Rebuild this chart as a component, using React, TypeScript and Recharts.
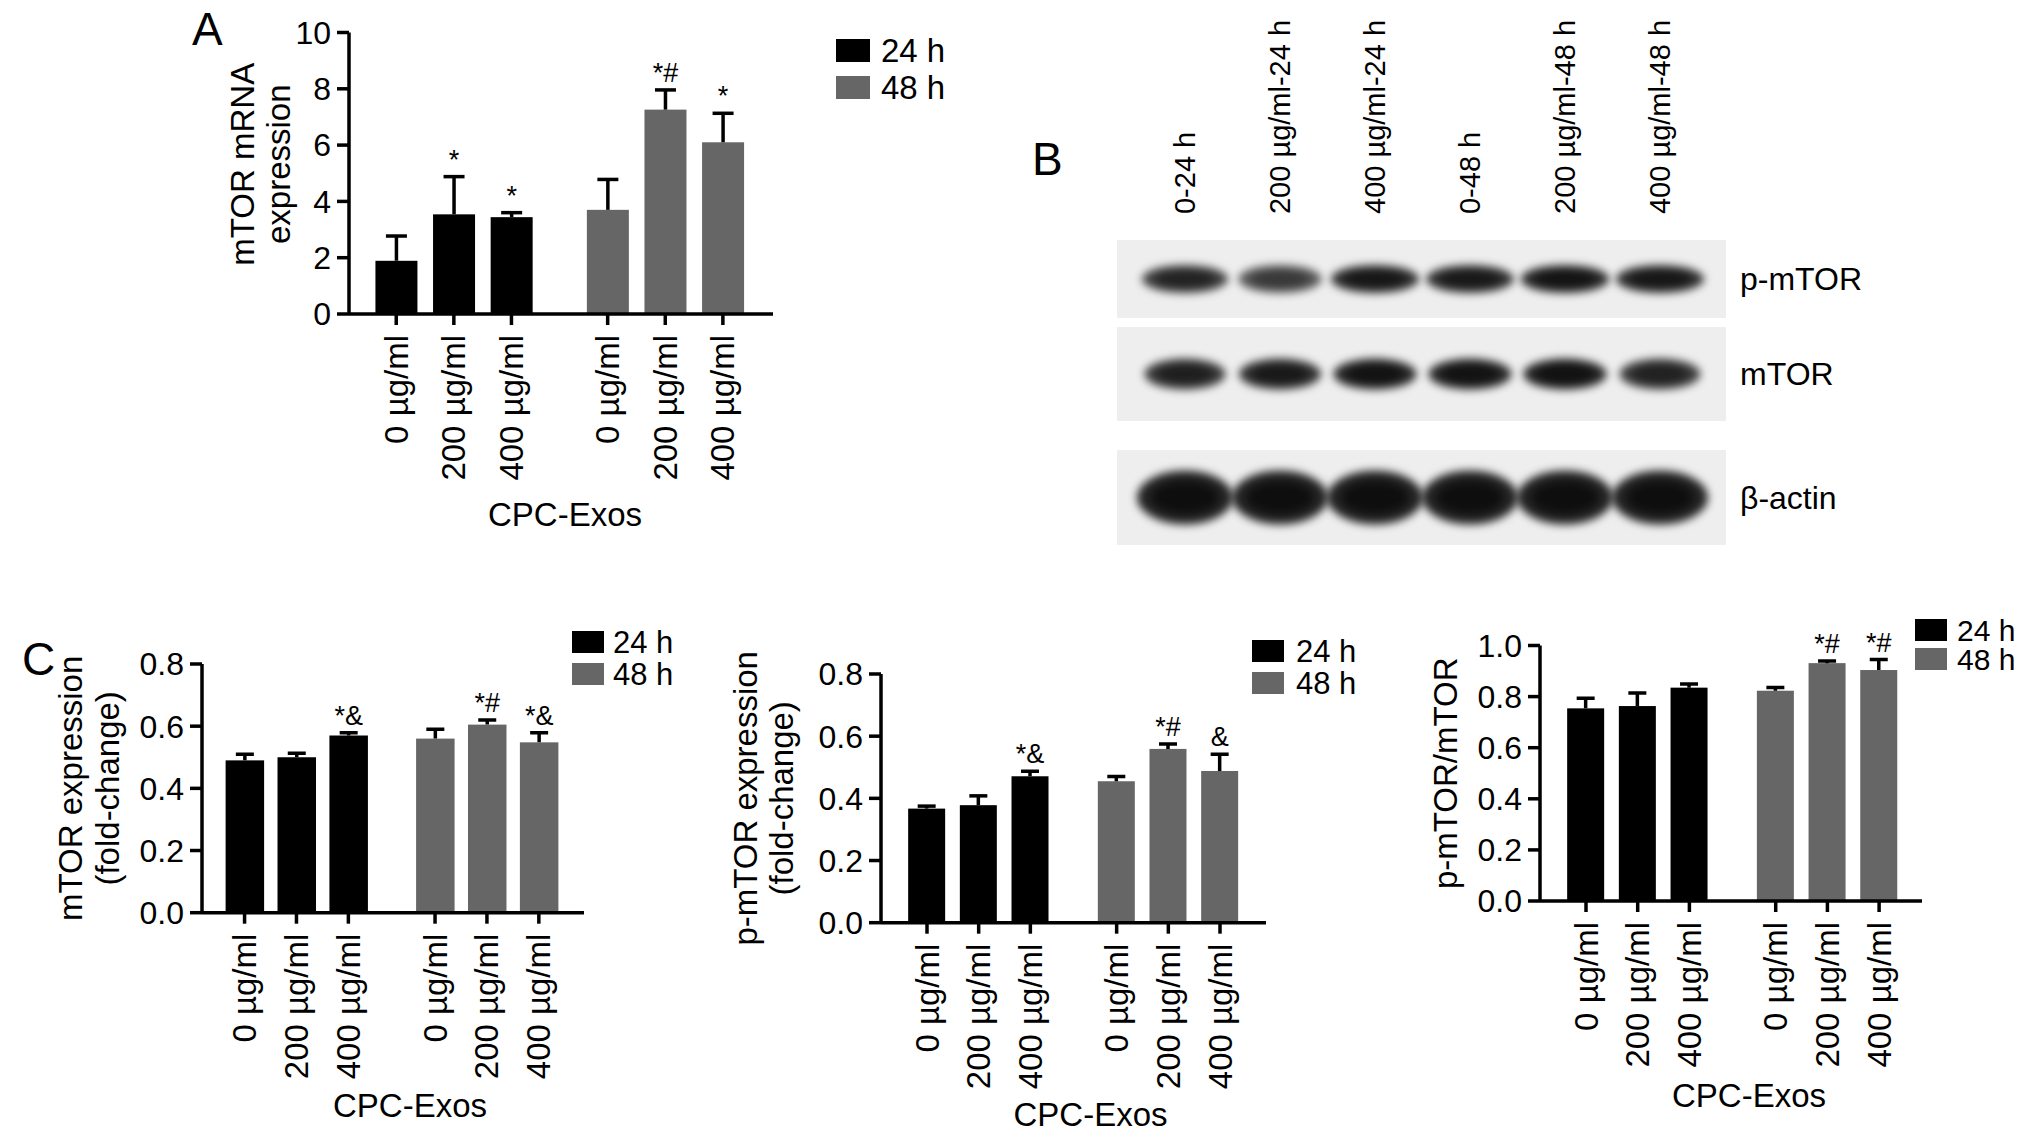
import React from 'react';
import {
  BarChart, Bar, XAxis, YAxis, Legend,
  ScatterChart, Scatter, ReferenceArea,
} from 'recharts';

const FONT = '"Liberation Sans", Arial, Helvetica, sans-serif';

const doses = ['0 µg/ml', '200 µg/ml', '400 µg/ml'];
const times = ['24 h', '48 h'];
const timeColors = ['#000000', '#666666'];

// A - mTOR mRNA
const mrna24 = [1.89, 3.54, 3.44];
const mrna48 = [3.7, 7.26, 6.1];
const mrnaSd24 = [0.88, 1.34, 0.16];
const mrnaSd48 = [1.08, 0.7, 1.03];
const mrnaSig24 = ['', '*', '*'];
const mrnaSig48 = ['', '*#', '*'];
const mrnaTicks = [0, 2, 4, 6, 8, 10];

// C left - mTOR protein
const mtor24 = [0.49, 0.5, 0.57];
const mtor48 = [0.56, 0.605, 0.548];
const mtorSd24 = [0.02, 0.013, 0.009];
const mtorSd48 = [0.03, 0.015, 0.031];
const mtorSig24 = ['', '', '*&'];
const mtorSig48 = ['', '*#', '*&'];

// C middle - p-mTOR
const pmtor24 = [0.367, 0.378, 0.471];
const pmtor48 = [0.455, 0.559, 0.488];
const pmtorSd24 = [0.008, 0.03, 0.016];
const pmtorSd48 = [0.015, 0.016, 0.054];
const pmtorSig24 = ['', '', '*&'];
const pmtorSig48 = ['', '*#', '&'];
const foldTicks = [0, 0.2, 0.4, 0.6, 0.8];

// C right - p-mTOR/mTOR
const ratio24 = [0.754, 0.763, 0.835];
const ratio48 = [0.823, 0.931, 0.904];
const ratioSd24 = [0.04, 0.051, 0.014];
const ratioSd48 = [0.013, 0.008, 0.041];
const ratioSig24 = ['', '', ''];
const ratioSig48 = ['', '*#', '*#'];
const ratioTicks = [0, 0.2, 0.4, 0.6, 0.8, 1.0];

// B - western blot, relative band density per lane
const lanes = ['0-24 h', '200 µg/ml-24 h', '400 µg/ml-24 h', '0-48 h', '200 µg/ml-48 h', '400 µg/ml-48 h'];
const pmtorBands = [0.78, 0.6, 0.9, 0.88, 0.93, 0.9];
const mtorBands = [0.82, 0.88, 0.95, 0.95, 0.97, 0.8];
const actinBands = [1, 1, 1, 1, 1, 1];

// extra space between the 24 h and 48 h groups, in bar slots
const GROUP_GAP = 0.67;
const X_AXIS_H = 222;

type Row = { pos: number; dose: string; group: number; value: number; sd: number; sig: string };

const buildRows = (vals: number[][], sds: number[][], sigs: string[][]): Row[] =>
  times.flatMap((_, g) =>
    doses.map((dose, i) => ({
      pos: g * (doses.length + GROUP_GAP) + i + 1,
      dose,
      group: g,
      value: vals[g][i],
      sd: sds[g][i],
      sig: sigs[g][i],
    })),
  );

const mrnaRows = buildRows([mrna24, mrna48], [mrnaSd24, mrnaSd48], [mrnaSig24, mrnaSig48]);
const mtorRows = buildRows([mtor24, mtor48], [mtorSd24, mtorSd48], [mtorSig24, mtorSig48]);
const pmtorRows = buildRows([pmtor24, pmtor48], [pmtorSd24, pmtorSd48], [pmtorSig24, pmtorSig48]);
const ratioRows = buildRows([ratio24, ratio48], [ratioSd24, ratioSd48], [ratioSig24, ratioSig48]);

// bar + upward error bar + significance mark
const BarWithSd = (props: any) => {
  const { x, y, width, height, payload, capHalf } = props;
  const pxPerUnit = payload.value ? height / payload.value : 0;
  const cx = x + width / 2;
  const top = y - payload.sd * pxPerUnit;
  return (
    <g>
      <rect x={x} y={y} width={width} height={height} fill={timeColors[payload.group]} />
      <line x1={cx} x2={cx} y1={y} y2={top} stroke="#000" strokeWidth={3.5} />
      <line x1={cx - capHalf} x2={cx + capHalf} y1={top} y2={top} stroke="#000" strokeWidth={3.5} />
      {payload.sig ? (
        <text x={cx} y={top - 8} textAnchor="middle" fontSize={27} fill="#000">{payload.sig}</text>
      ) : null}
    </g>
  );
};

const DoseTick = (props: any) => {
  const { x, y, payload, rows } = props;
  const row = rows.find((r: Row) => Math.abs(r.pos - payload.value) < 0.01);
  return (
    <text x={x} y={y} transform={`rotate(-90, ${x}, ${y})`} textAnchor="end" dy="0.35em" fontSize={33} fill="#000">
      {row ? row.dose : ''}
    </text>
  );
};

const XTitle = ({ tx, ty }: any) => (
  <text x={tx} y={ty} textAnchor="middle" fontSize={33} fill="#000">CPC-Exos</text>
);

const YTitle = ({ lines, xs, ty }: any) => (
  <g>
    {lines.map((line: string, i: number) => (
      <text key={line} x={xs[i]} y={ty} transform={`rotate(-90, ${xs[i]}, ${ty})`} textAnchor="middle" fontSize={33} fill="#000">
        {line}
      </text>
    ))}
  </g>
);

const TimeLegend = ({ w, h, gap, textDx, fontSize }: any) => (
  <svg width={textDx + 80} height={gap + h + 4} style={{ display: 'block', overflow: 'visible' }}>
    {times.map((t, i) => (
      <g key={t}>
        <rect x={0} y={i * gap} width={w} height={h} fill={timeColors[i]} />
        <text x={textDx} y={i * gap + h / 2} dy="0.36em" fontSize={fontSize} fill="#000">{t}</text>
      </g>
    ))}
  </svg>
);

type PanelProps = {
  rows: Row[];
  left: number;
  top: number;
  yAxisWidth: number;
  plotTop: number;
  plotWidth: number;
  plotHeight: number;
  rightPad: number;
  xDomain: [number, number];
  yTicks: number[];
  decimals: number;
  barSize: number;
  capHalf: number;
  yTitle: string[];
  yTitleX: number[];
  yTitleDy: number;
  xTitleDx: number;
  xTitleDy: number;
  legend: { x: number; y: number; w: number; h: number; gap: number; textDx: number; fontSize: number };
};

const BarPanel = (p: PanelProps) => {
  const width = p.yAxisWidth + p.plotWidth + p.rightPad;
  const height = p.plotTop + p.plotHeight + X_AXIS_H;
  const midY = p.plotTop + p.plotHeight / 2 + p.yTitleDy;
  const axisStyle = { stroke: '#000', strokeWidth: 3.5 };
  return (
    <div style={{ position: 'absolute', left: p.left, top: p.top }}>
      <BarChart
        width={width}
        height={height}
        data={p.rows}
        margin={{ top: p.plotTop, right: p.rightPad, bottom: 0, left: 0 }}
      >
        <XAxis
          type="number"
          dataKey="pos"
          domain={p.xDomain}
          allowDataOverflow
          ticks={p.rows.map((r) => r.pos)}
          interval={0}
          height={X_AXIS_H}
          stroke="#000"
          axisLine={axisStyle}
          tickLine={axisStyle}
          tickSize={11}
          tickMargin={10}
          tick={<DoseTick rows={p.rows} />}
          label={<XTitle tx={p.yAxisWidth + p.plotWidth / 2 + p.xTitleDx} ty={p.plotTop + p.plotHeight + p.xTitleDy} />}
        />
        <YAxis
          type="number"
          domain={[p.yTicks[0], p.yTicks[p.yTicks.length - 1]]}
          ticks={p.yTicks}
          interval={0}
          width={p.yAxisWidth}
          stroke="#000"
          axisLine={axisStyle}
          tickLine={axisStyle}
          tickSize={12}
          tickMargin={6}
          tick={{ fill: '#000', fontSize: 32 }}
          tickFormatter={(v: number) => v.toFixed(p.decimals)}
          label={<YTitle lines={p.yTitle} xs={p.yTitleX.map((d) => p.yAxisWidth + d)} ty={midY} />}
        />
        <Bar
          dataKey="value"
          barSize={p.barSize}
          isAnimationActive={false}
          shape={(s: any) => <BarWithSd {...s} capHalf={p.capHalf} />}
        />
        <Legend
          layout="horizontal"
          verticalAlign="middle"
          align="center"
          wrapperStyle={{ left: p.legend.x, top: p.legend.y, width: 140, height: 'auto' }}
          content={() => <TimeLegend {...p.legend} />}
        />
      </BarChart>
    </div>
  );
};

// western blot rows
const LANE_DOMAIN: [number, number] = [-0.716, 5.695];
const BAND_LEVEL = 0.5;

const Band = (props: any) => {
  const { cx, cy, payload, band } = props;
  return (
    <g filter="url(#band-blur)">
      <ellipse cx={cx} cy={cy} rx={band.rx * (0.82 + 0.18 * payload.density)} ry={band.ry} fill="#000" fillOpacity={0.3 + 0.55 * payload.density} />
      <ellipse cx={cx} cy={cy} rx={band.rx * 0.7 * (0.8 + 0.2 * payload.density)} ry={band.ry * 0.6} fill="#000" fillOpacity={0.6 * payload.density} />
    </g>
  );
};

const LaneTick = (props: any) => {
  const { x, y, payload } = props;
  return (
    <text x={x} y={y} transform={`rotate(-90, ${x}, ${y})`} textAnchor="start" dy="0.35em" fontSize={29} fill="#000">
      {lanes[payload.value]}
    </text>
  );
};

type BlotProps = {
  name: string;
  density: number[];
  stripTop: number;
  stripBottom: number;
  showLanes: boolean;
  band: { rx: number; ry: number };
};

const BLOT_LEFT = 1080;
const BLOT_PLOT_LEFT = 1117;
const BLOT_PLOT_RIGHT = 1726;

const BlotRow = ({ name, density, stripTop, stripBottom, showLanes, band }: BlotProps) => {
  const axisH = showLanes ? stripTop : 0;
  const data = density.map((d, i) => ({ lane: i, level: BAND_LEVEL, density: d }));
  return (
    <div style={{ position: 'absolute', left: BLOT_LEFT, top: stripTop - axisH }}>
      <ScatterChart
        width={BLOT_PLOT_RIGHT - BLOT_LEFT + 200}
        height={axisH + stripBottom - stripTop}
        margin={{ top: 0, right: 0, bottom: 0, left: BLOT_PLOT_LEFT - BLOT_LEFT }}
      >
        <XAxis
          type="number"
          dataKey="lane"
          domain={LANE_DOMAIN}
          allowDataOverflow
          ticks={lanes.map((_, i) => i)}
          interval={0}
          orientation="top"
          hide={!showLanes}
          height={axisH}
          axisLine={false}
          tickLine={false}
          tickSize={0}
          tickMargin={26}
          tick={<LaneTick />}
        />
        <YAxis
          type="number"
          dataKey="level"
          domain={[0, 1]}
          ticks={[BAND_LEVEL]}
          orientation="right"
          width={200}
          axisLine={false}
          tickLine={false}
          tickSize={0}
          tickMargin={14}
          tick={{ fill: '#000', fontSize: 32 }}
          tickFormatter={() => name}
        />
        <ReferenceArea
          x1={LANE_DOMAIN[0]}
          x2={LANE_DOMAIN[1]}
          y1={0}
          y2={1}
          fill="#eeeeee"
          fillOpacity={1}
          stroke="none"
          ifOverflow="visible"
        />
        <Scatter data={data} isAnimationActive={false} shape={(s: any) => <Band {...s} band={band} />} />
      </ScatterChart>
    </div>
  );
};

const letterStyle = (left: number, top: number): React.CSSProperties => ({
  position: 'absolute',
  left,
  top,
  fontSize: 46,
  lineHeight: 1,
  color: '#000',
});

export default function App() {
  return (
    <div
      style={{
        position: 'absolute',
        left: 0,
        top: 0,
        width: 2032,
        height: 1140,
        overflow: 'hidden',
        background: '#fff',
        fontFamily: FONT,
      }}
    >
      <svg width={0} height={0} style={{ position: 'absolute' }}>
        <defs>
          <filter id="band-blur" x="-50%" y="-100%" width="200%" height="300%">
            <feGaussianBlur stdDeviation="4" />
          </filter>
        </defs>
      </svg>

      <div style={letterStyle(192, 6)}>A</div>
      <div style={letterStyle(1032, 136)}>B</div>
      <div style={letterStyle(22, 636)}>C</div>

      <BarPanel
        rows={mrnaRows}
        left={150}
        top={0}
        yAxisWidth={199}
        plotTop={32.5}
        plotWidth={424}
        plotHeight={281.5}
        rightPad={187}
        xDomain={[0.18, 7.54]}
        yTicks={mrnaTicks}
        decimals={0}
        barSize={42}
        capHalf={10.5}
        yTitle={['mTOR mRNA', 'expression']}
        yTitleX={[-95, -59]}
        yTitleDy={-9}
        xTitleDx={4}
        xTitleDy={212}
        legend={{ x: 686, y: 39, w: 34, h: 23, gap: 37, textDx: 45, fontSize: 33 }}
      />

      <BlotRow name="p-mTOR" density={pmtorBands} stripTop={240} stripBottom={318} showLanes band={{ rx: 45, ry: 14 }} />
      <BlotRow name="mTOR" density={mtorBands} stripTop={327} stripBottom={421} showLanes={false} band={{ rx: 42, ry: 15.5 }} />
      <BlotRow name="β-actin" density={actinBands} stripTop={450} stripBottom={545} showLanes={false} band={{ rx: 48, ry: 27 }} />

      <BarPanel
        rows={mtorRows}
        left={20}
        top={600}
        yAxisWidth={182}
        plotTop={64}
        plotWidth={382}
        plotHeight={248.7}
        rightPad={100}
        xDomain={[0.18, 7.54]}
        yTicks={foldTicks}
        decimals={1}
        barSize={38.5}
        capHalf={9}
        yTitle={['mTOR expression', '(fold-change)']}
        yTitleX={[-120, -83]}
        yTitleDy={0}
        xTitleDx={17}
        xTitleDy={204}
        legend={{ x: 552, y: 31, w: 32, h: 22, gap: 32, textDx: 41, fontSize: 31 }}
      />

      <BarPanel
        rows={pmtorRows}
        left={700}
        top={600}
        yAxisWidth={181}
        plotTop={74}
        plotWidth={385}
        plotHeight={248.7}
        rightPad={114}
        xDomain={[0.11, 7.56]}
        yTicks={foldTicks}
        decimals={1}
        barSize={37}
        capHalf={9}
        yTitle={['p-mTOR expression', '(fold-change)']}
        yTitleX={[-124, -88]}
        yTitleDy={0}
        xTitleDx={17}
        xTitleDy={203}
        legend={{ x: 552, y: 40, w: 32, h: 22, gap: 32, textDx: 44, fontSize: 31 }}
      />

      <BarPanel
        rows={ratioRows}
        left={1380}
        top={600}
        yAxisWidth={160}
        plotTop={45.5}
        plotWidth={382}
        plotHeight={255.5}
        rightPad={110}
        xDomain={[0.11, 7.5]}
        yTicks={ratioTicks}
        decimals={1}
        barSize={37}
        capHalf={9}
        yTitle={['p-mTOR/mTOR']}
        yTitleX={[-83]}
        yTitleDy={0}
        xTitleDx={18}
        xTitleDy={206}
        legend={{ x: 535, y: 19, w: 32, h: 22, gap: 29, textDx: 42, fontSize: 30 }}
      />
    </div>
  );
}
